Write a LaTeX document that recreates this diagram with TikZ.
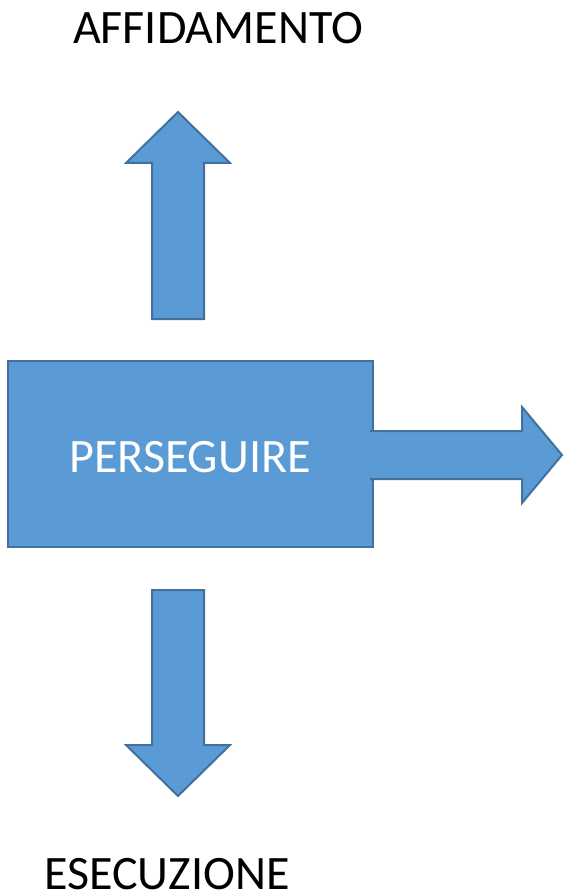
\documentclass[tikz,border=0pt]{standalone}
\usepackage{fontspec}
\setmainfont{Carlito}
\usepackage{xcolor}
\usepackage{tikz}
\definecolor{blockfill}{HTML}{5B9BD5}
\definecolor{blockline}{HTML}{41719C}

\begin{document}
\begin{tikzpicture}[x=1pt, y=-1pt, every node/.style={font=\fontsize{48}{57}\selectfont, anchor=base, inner sep=0pt},
    blockshape/.style={fill=blockfill, draw=blockline, line width=2pt, line join=miter}]
    \useasboundingbox (0,0) rectangle (563,896);
    % box in the middle
    \draw[blockshape] (8,361) rectangle (373,547);
    \node[white] (perseguire) at (190,472) {PERSEGUIRE};
    % arrow up
    \draw[blockshape] (152,319) -- (152,163) -- (126,163) -- (178,112) -- (230,163) -- (204,163) -- (204,319) -- cycle;
    \node (affidamento) at (218,44) {AFFIDAMENTO};
    % arrow right
    \draw[blockshape] (370,431) -- (522,431) -- (522,407) -- (562,455) -- (522,503) -- (522,479) -- (370,479);
    \fill[blockfill] (368,432) rectangle (380,478);
    % arrow down
    \draw[blockshape] (152,590) -- (152,745) -- (126,745) -- (178,796) -- (230,745) -- (204,745) -- (204,590) -- cycle;
    \node (esecuzione) at (167,889) {ESECUZIONE};
\end{tikzpicture}
\end{document}
